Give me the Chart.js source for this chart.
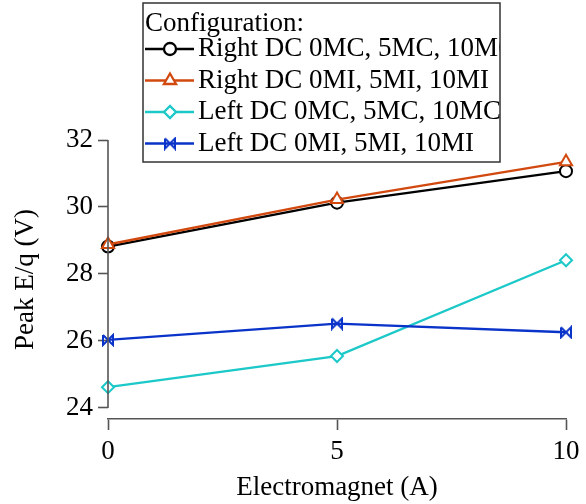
<!DOCTYPE html>
<html>
<head>
<meta charset="utf-8">
<script src="https://cdn.jsdelivr.net/npm/chart.js@4/dist/chart.umd.min.js"></script>
<style>
  html, body { margin: 0; padding: 0; background: #fff; }
  #wrap { width: 586px; height: 504px; }
</style>
</head>
<body>
<div id="wrap"><canvas id="chart"></canvas></div>
<script>
// Electromagnet current (A)
const currents = [0, 5, 10];
const rightMC = [28.82, 30.13, 31.07];
const rightMI = [28.88, 30.22, 31.35];
const leftMC = [24.62, 25.55, 28.41];
const leftMI = [26.03, 26.52, 26.26];
const yTicks = [24, 26, 28, 30, 32];

const seriesLabels = [
    'Right DC 0MC, 5MC, 10MC',
    'Right DC 0MI, 5MI, 10MI',
    'Left DC 0MC, 5MC, 10MC',
    'Left DC 0MI, 5MI, 10MI'
];

const FONT = '"Liberation Serif", "Times New Roman", serif';
const FONT_SIZE = 27;
const AXIS = '#555';

// bowtie marker (two facing triangles with end bars)
function bowtie(color, size) {
    const c = document.createElement('canvas');
    c.width = size;
    c.height = size;
    const g = c.getContext('2d');
    g.strokeStyle = color;
    g.lineWidth = 2;
    const a = 2, b = size - 2;
    g.beginPath();
    g.moveTo(a, a); g.lineTo(a, b);
    g.lineTo(b, a); g.lineTo(b, b);
    g.lineTo(a, a);
    g.stroke();
    return c;
}

function toPoints(ys) {
    return currents.map((x, i) => ({ x: x, y: ys[i] }));
}

function series(label, ys, color, style, radius, order) {
    return {
        label: label,
        data: toPoints(ys),
        borderColor: color,
        backgroundColor: '#fff',
        pointBackgroundColor: '#fff',
        pointBorderColor: color,
        pointBorderWidth: 2,
        borderWidth: 2.3,
        pointStyle: style,
        pointRadius: radius,
        pointHoverRadius: radius,
        clip: false,
        order: order
    };
}

const datasets = [
    series(seriesLabels[0], rightMC, '#000000', 'circle', 6, 4),
    series(seriesLabels[1], rightMI, '#D2490F', 'triangle', 7, 3),
    series(seriesLabels[2], leftMC, '#1CC8C8', 'rectRot', 6, 2),
    series(seriesLabels[3], leftMI, '#0A33C9', bowtie('#0A33C9', 14), 7, 1)
];

// y axis line only between the first and last tick
const yAxisLine = {
    id: 'yAxisLine',
    afterDraw(chart) {
        const y = chart.scales.y;
        const ctx = chart.ctx;
        ctx.save();
        ctx.strokeStyle = AXIS;
        ctx.lineWidth = 1.6;
        ctx.beginPath();
        ctx.moveTo(y.right, y.getPixelForValue(yTicks[yTicks.length - 1]));
        ctx.lineTo(y.right, y.getPixelForValue(yTicks[0]));
        ctx.stroke();
        ctx.restore();
    }
};

// boxed legend with a heading line
const boxLegend = {
    id: 'boxLegend',
    afterDraw(chart) {
        const ctx = chart.ctx;
        const left = 143, top = 3, right = 500, bottom = 162;
        const rowH = 31.5;
        ctx.save();
        ctx.fillStyle = '#fff';
        ctx.fillRect(left, top, right - left, bottom - top);
        ctx.beginPath();
        ctx.rect(left, top, right - left, bottom - top);
        ctx.clip();

        ctx.font = FONT_SIZE + 'px ' + FONT;
        ctx.fillStyle = '#000';
        ctx.textBaseline = 'middle';
        ctx.fillText('Configuration:', left + 2, top + 21);

        chart.data.datasets.forEach((ds, i) => {
            const cy = top + 46 + i * rowH;
            ctx.strokeStyle = ds.borderColor;
            ctx.lineWidth = 2.3;
            ctx.beginPath();
            ctx.moveTo(left + 2, cy);
            ctx.lineTo(left + 51, cy);
            ctx.stroke();
            ctx.fillStyle = '#fff';
            Chart.helpers.drawPoint(ctx, {
                pointStyle: ds.pointStyle,
                radius: ds.pointRadius,
                rotation: 0,
                borderWidth: 2
            }, left + 27, cy);
            ctx.fillStyle = '#000';
            ctx.fillText(ds.label, left + 55, cy);
        });
        ctx.restore();

        ctx.save();
        ctx.strokeStyle = '#333';
        ctx.lineWidth = 1.5;
        ctx.strokeRect(left, top, right - left, bottom - top);
        ctx.restore();
    }
};

Chart.defaults.font.family = FONT;
Chart.defaults.color = '#000';

const chart = new Chart(document.getElementById('chart'), {
    type: 'line',
    data: { datasets: datasets },
    options: {
        responsive: true,
        maintainAspectRatio: false,
        animation: false,
        layout: { padding: { top: 140, right: 20, left: 0, bottom: 0 } },
        plugins: {
            legend: { display: false },
            tooltip: { enabled: false }
        },
        scales: {
            x: {
                type: 'linear',
                min: 0,
                max: 10,
                afterBuildTicks: (s) => { s.ticks = currents.map(v => ({ value: v })); },
                afterFit: (s) => { s.height = 85; },
                grid: {
                    drawOnChartArea: false,
                    tickLength: 11,
                    tickColor: AXIS,
                    tickWidth: 1.6
                },
                border: { color: AXIS, width: 1.6 },
                ticks: { font: { size: FONT_SIZE }, padding: 6, maxRotation: 0 },
                title: {
                    display: true,
                    text: 'Electromagnet (A)',
                    font: { size: FONT_SIZE },
                    padding: { top: 0, bottom: 0 }
                }
            },
            y: {
                type: 'linear',
                min: 23.67,
                max: 32,
                afterBuildTicks: (s) => { s.ticks = yTicks.map(v => ({ value: v })); },
                afterFit: (s) => { s.width = 108; },
                grid: {
                    drawOnChartArea: false,
                    tickLength: 10,
                    tickColor: AXIS,
                    tickWidth: 1.6
                },
                border: { display: false },
                ticks: { font: { size: FONT_SIZE }, padding: 5 },
                title: {
                    display: true,
                    text: 'Peak E/q (V)',
                    font: { size: FONT_SIZE },
                    padding: { top: 10, bottom: 0 }
                }
            }
        }
    },
    plugins: [yAxisLine, boxLegend]
});
</script>
</body>
</html>
